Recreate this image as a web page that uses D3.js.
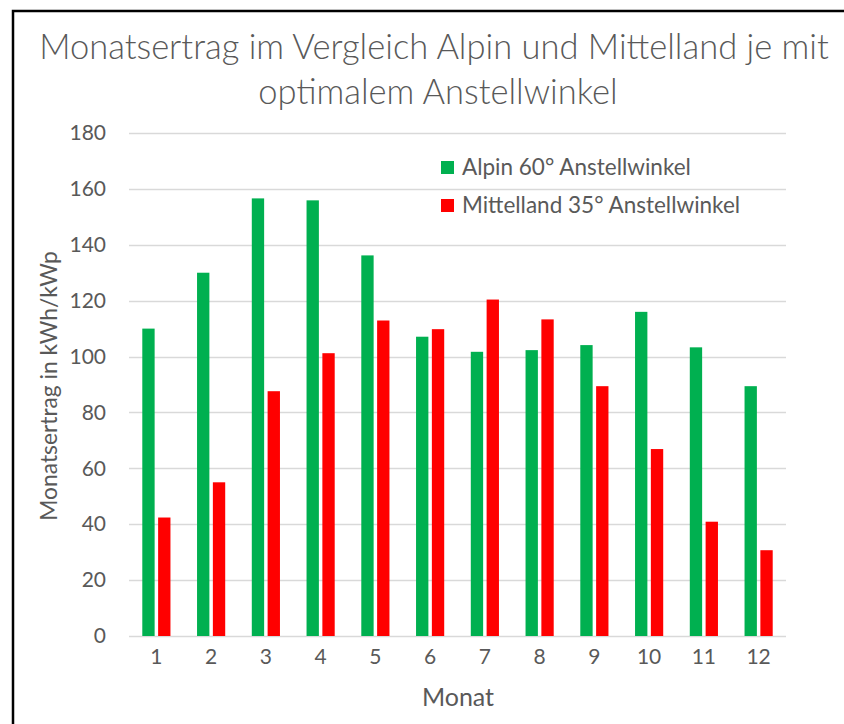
<!DOCTYPE html>
<html>
<head>
<meta charset="utf-8">
<script src="https://cdn.jsdelivr.net/npm/d3@7"></script>
<style>
 body { margin: 0; background: #fff; }
 text { font-family: Lato, "Open Sans", sans-serif; fill: #595959; }
</style>
</head>
<body>
<svg width="844" height="724"></svg>
<script>
// Data
var months = ["1", "2", "3", "4", "5", "6", "7", "8", "9", "10", "11", "12"];
var alpin = [110, 130, 156.6, 155.9, 136.2, 107.1, 101.7, 102.3, 104.1, 116, 103.3, 89.4];
var mittelland = [42.4, 55, 87.6, 101.2, 112.9, 109.8, 120.4, 113.3, 89.4, 66.9, 40.9, 30.7];
var seriesNames = ["Alpin 60° Anstellwinkel", "Mittelland 35° Anstellwinkel"];
var seriesColors = ["#00B050", "#FF0000"];
var yTicks = [0, 20, 40, 60, 80, 100, 120, 140, 160, 180];

var svg = d3.select("svg"),
    width = +svg.attr("width"),
    height = +svg.attr("height");

// frame
svg.append("rect")
  .attr("x", 13).attr("y", 11)
  .attr("width", 900).attr("height", 800)
  .attr("fill", "none")
  .attr("stroke", "#000")
  .attr("stroke-width", 2.5);

var margin = {left: 129, right: 58, top: 133, bottom: 88};
var x = d3.scaleBand()
  .domain(months)
  .range([margin.left, width - margin.right]);
var x1 = d3.scaleBand()
  .domain([0, 1])
  .range([0, x.bandwidth()])
  .paddingInner(0.22)
  .paddingOuter(0.84);
var y = d3.scaleLinear()
  .domain([0, 180])
  .range([height - margin.bottom, margin.top]);

// gridlines
svg.append("g")
  .selectAll("line")
  .data(yTicks)
  .enter().append("line")
  .attr("x1", margin.left)
  .attr("x2", width - margin.right)
  .attr("y1", function (d) { return Math.round(y(d)) + 0.5; })
  .attr("y2", function (d) { return Math.round(y(d)) + 0.5; })
  .attr("stroke", "#D9D9D9")
  .attr("stroke-width", 1.3);

// y axis labels
var yAxis = d3.axisLeft(y).tickValues(yTicks).tickSize(0).tickPadding(23);
svg.append("g")
  .attr("transform", "translate(" + margin.left + ",0)")
  .call(yAxis)
  .call(function (g) { g.select(".domain").remove(); })
  .selectAll("text")
  .attr("font-size", 21)
  .attr("font-family", null)
  .attr("fill", "#595959");

// x axis labels
var xAxis = d3.axisBottom(x).tickSize(0).tickPadding(13);
svg.append("g")
  .attr("transform", "translate(0," + y(0) + ")")
  .call(xAxis)
  .call(function (g) { g.select(".domain").remove(); })
  .selectAll("text")
  .attr("font-size", 21)
  .attr("font-family", null)
  .attr("fill", "#595959");

// bars
var rows = months.map(function (m, i) { return {m: m, v: [alpin[i], mittelland[i]]}; });
var groups = svg.append("g")
  .selectAll("g")
  .data(rows)
  .enter().append("g")
  .attr("transform", function (d) { return "translate(" + x(d.m) + ",0)"; });
groups.selectAll("rect")
  .data(function (d) { return d.v.map(function (v, k) { return {k: k, v: v}; }); })
  .enter().append("rect")
  .attr("x", function (d) { return x1(d.k); })
  .attr("width", x1.bandwidth())
  .attr("y", function (d) { return y(d.v); })
  .attr("height", function (d) { return y(0) - y(d.v); })
  .attr("fill", function (d) { return seriesColors[d.k]; });

// title
var title = svg.append("text")
  .attr("text-anchor", "middle")
  .attr("font-size", 34.5)
  .attr("font-weight", 300);
title.append("tspan").attr("x", 434).attr("y", 59)
  .text("Monatsertrag im Vergleich Alpin und Mittelland je mit");
title.append("tspan").attr("x", 438).attr("y", 104)
  .text("optimalem Anstellwinkel");

// axis titles
svg.append("text")
  .attr("text-anchor", "middle")
  .attr("font-size", 25)
  .attr("x", 458).attr("y", 706)
  .text("Monat");
svg.append("text")
  .attr("text-anchor", "middle")
  .attr("font-size", 22.8)
  .attr("transform", "translate(57,386) rotate(-90)")
  .text("Monatsertrag in kWh/kWp");

// legend
var legend = svg.append("g").attr("transform", "translate(441,161)");
var items = legend.selectAll("g")
  .data(seriesNames)
  .enter().append("g")
  .attr("transform", function (d, i) { return "translate(0," + (i * 38) + ")"; });
items.append("rect")
  .attr("width", 13).attr("height", 13)
  .attr("fill", function (d, i) { return seriesColors[i]; });
items.append("text")
  .attr("x", 21).attr("y", 13.5)
  .attr("font-size", 22.5)
  .text(function (d) { return d; });
</script>
</body>
</html>
